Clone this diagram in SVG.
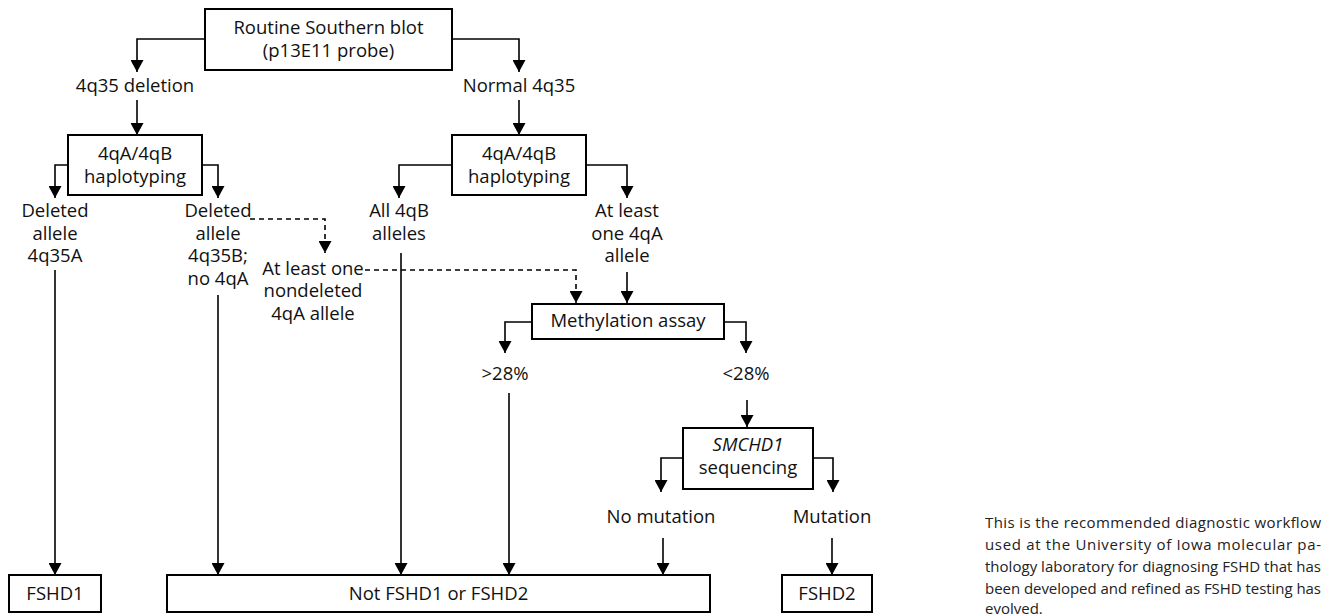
<svg xmlns="http://www.w3.org/2000/svg" width="1333" height="616" viewBox="0 0 1333 616">
<defs>
<marker id="ah" markerUnits="userSpaceOnUse" markerWidth="13" markerHeight="13" refX="12" refY="6.5" orient="auto">
<path d="M0,0 L12,6.5 L0,13 z" fill="#000"/>
</marker>
<style>
.box{fill:#fff;stroke:#000;stroke-width:2}
.t{font-family:"Open Sans","Noto Sans","DejaVu Sans",sans-serif;font-size:18.5px;fill:#111;text-anchor:middle}
.i{font-style:italic}
.c{fill:none;stroke:#000;stroke-width:1.6;marker-end:url(#ah)}
.d{fill:none;stroke:#000;stroke-width:1.6;stroke-dasharray:5,4;marker-end:url(#ah)}
.cap{font-family:"Open Sans","Noto Sans","DejaVu Sans",sans-serif;font-size:15px;fill:#222}
</style>
</defs>
<rect width="1333" height="616" fill="#fff"/>

<g id="connectors">
<path class="c" d="M205,39 H137 V72"/>
<path class="c" d="M452,39 H519 V72"/>
<path class="c" d="M137,100 V135"/>
<path class="c" d="M519,100 V135"/>
<path class="c" d="M68,165 H55 V198"/>
<path class="c" d="M202,165 H218 V198"/>
<path class="c" d="M452,165 H399 V198"/>
<path class="c" d="M586,165 H627 V198"/>
<path class="d" d="M250,219 H325 V253"/>
<path class="d" d="M365,270 H576 V303"/>
<path class="c" d="M55,270 V575"/>
<path class="c" d="M218,295 V575"/>
<path class="c" d="M401,253 V575"/>
<path class="c" d="M627,272 V303"/>
<path class="c" d="M532,322 H505 V353"/>
<path class="c" d="M724,322 H746 V353"/>
<path class="c" d="M509,393 V575"/>
<path class="c" d="M747,400 V427"/>
<path class="c" d="M683,458 H661 V492"/>
<path class="c" d="M813,458 H833 V492"/>
<path class="c" d="M663,538 V575"/>
<path class="c" d="M832,538 V575"/>
</g>

<g id="southern">
<rect class="box" x="205" y="9" width="247" height="61"/>
<text class="t" x="328.5" y="34">Routine Southern blot</text>
<text class="t" x="328.5" y="57">(p13E11 probe)</text>
</g>
<g id="deletion"><text class="t" x="135" y="92">4q35 deletion</text></g>
<g id="normal"><text class="t" x="519" y="92">Normal 4q35</text></g>

<g id="hap-left">
<rect class="box" x="68" y="135" width="134" height="60"/>
<text class="t" x="135" y="160">4qA/4qB</text>
<text class="t" x="135" y="183">haplotyping</text>
</g>
<g id="hap-right">
<rect class="box" x="452" y="135" width="134" height="60"/>
<text class="t" x="519" y="160">4qA/4qB</text>
<text class="t" x="519" y="183">haplotyping</text>
</g>

<g id="del-4q35a">
<text class="t" x="55" y="217">Deleted</text>
<text class="t" x="55" y="239.5">allele</text>
<text class="t" x="55" y="262">4q35A</text>
</g>
<g id="del-4q35b">
<text class="t" x="218" y="217">Deleted</text>
<text class="t" x="218" y="239.5">allele</text>
<text class="t" x="218" y="262">4q35B;</text>
<text class="t" x="218" y="284.5">no 4qA</text>
</g>
<g id="nondeleted">
<text class="t" x="313" y="274.5">At least one</text>
<text class="t" x="313" y="297">nondeleted</text>
<text class="t" x="313" y="319.5">4qA allele</text>
</g>
<g id="all4qb">
<text class="t" x="399" y="217">All 4qB</text>
<text class="t" x="399" y="239.5">alleles</text>
</g>
<g id="one4qa">
<text class="t" x="627" y="217">At least</text>
<text class="t" x="627" y="239.5">one 4qA</text>
<text class="t" x="627" y="262">allele</text>
</g>

<g id="methylation">
<rect class="box" x="532" y="304" width="192" height="35"/>
<text class="t" x="628" y="327">Methylation assay</text>
</g>
<g id="gt28"><text class="t" x="505" y="380">&gt;28%</text></g>
<g id="lt28"><text class="t" x="746" y="380">&lt;28%</text></g>

<g id="smchd1">
<rect class="box" x="683" y="428" width="130" height="61"/>
<text class="t i" x="748" y="451">SMCHD1</text>
<text class="t" x="748" y="474">sequencing</text>
</g>
<g id="nomutation"><text class="t" x="661" y="523">No mutation</text></g>
<g id="mutation"><text class="t" x="832" y="523">Mutation</text></g>

<g id="fshd1">
<rect class="box" x="9" y="575" width="92" height="37"/>
<text class="t" x="55" y="600">FSHD1</text>
</g>
<g id="notfshd">
<rect class="box" x="167" y="575" width="543" height="37"/>
<text class="t" x="438.5" y="600">Not FSHD1 or FSHD2</text>
</g>
<g id="fshd2">
<rect class="box" x="782" y="575" width="90" height="37"/>
<text class="t" x="827" y="600">FSHD2</text>
</g>

<g id="caption">
<text class="cap" x="985" y="528" textLength="336" lengthAdjust="spacing">This is the recommended diagnostic workflow</text>
<text class="cap" x="985" y="550" textLength="336" lengthAdjust="spacing">used at the University of Iowa molecular pa-</text>
<text class="cap" x="985" y="572" textLength="336" lengthAdjust="spacing">thology laboratory for diagnosing FSHD that has</text>
<text class="cap" x="985" y="594" textLength="336" lengthAdjust="spacing">been developed and refined as FSHD testing has</text>
<text class="cap" x="985" y="614">evolved.</text>
</g>
</svg>
